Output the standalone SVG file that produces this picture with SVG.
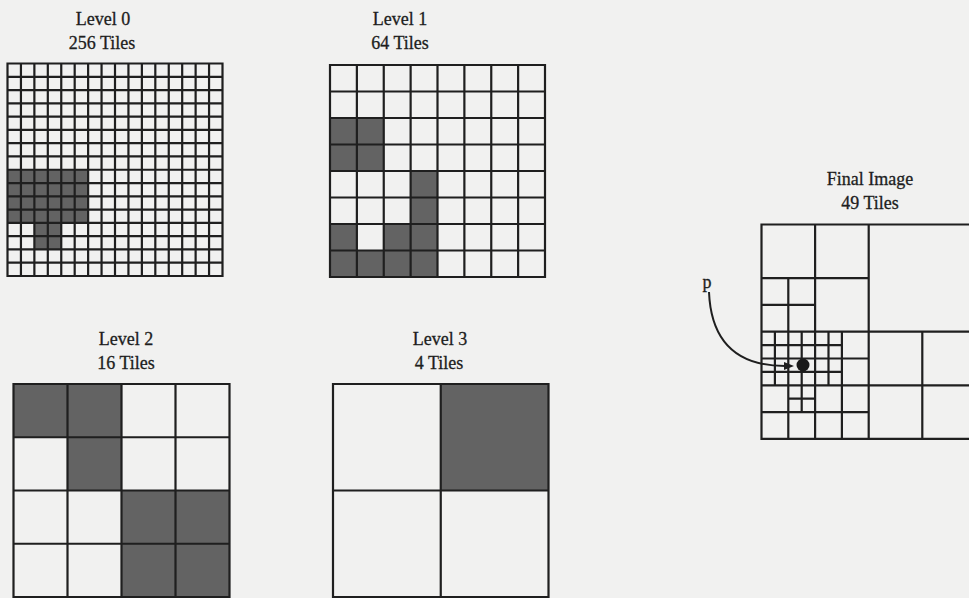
<svg xmlns="http://www.w3.org/2000/svg" width="969" height="598" viewBox="0 0 969 598">
<style>
.bg{fill:#f1f1f0}
.lbl{font-family:"Liberation Serif","Times New Roman",serif;font-size:18px;fill:#1e1e1e;stroke:#1e1e1e;stroke-width:0.3;text-anchor:middle}
.grid{fill:none;stroke:#1f1f1f;stroke-width:2.2;stroke-linecap:square;vector-effect:non-scaling-stroke}
.shade{fill:#636363}
.conn{fill:none;stroke:#1f1f1f;stroke-width:2}
</style>
<defs>
<marker id="ah" markerUnits="userSpaceOnUse" markerWidth="10" markerHeight="8" viewBox="0 0 10 8" refX="1" refY="4" orient="auto">
<path d="M0,0 L10,4 L0,8 z" fill="#1f1f1f"/>
</marker>
</defs>
<rect class="bg" x="0" y="0" width="969" height="598"/>

<g id="level0">
<text class="lbl" x="103" y="25">Level 0</text>
<text class="lbl" x="102" y="49">256 Tiles</text>
<g transform="translate(7.5,63.5) scale(13.4375,13.28125)">
<rect class="shade" x="0" y="8" width="6" height="4"/>
<rect class="shade" x="2" y="12" width="2" height="2"/>
<path class="grid" d="M0 0H16M0 1H16M0 2H16M0 3H16M0 4H16M0 5H16M0 6H16M0 7H16M0 8H16M0 9H16M0 10H16M0 11H16M0 12H16M0 13H16M0 14H16M0 15H16M0 16H16M0 0V16M1 0V16M2 0V16M3 0V16M4 0V16M5 0V16M6 0V16M7 0V16M8 0V16M9 0V16M10 0V16M11 0V16M12 0V16M13 0V16M14 0V16M15 0V16M16 0V16"/>
</g>
</g>

<g id="level1">
<text class="lbl" x="400" y="25">Level 1</text>
<text class="lbl" x="400" y="49">64 Tiles</text>
<g transform="translate(330,65) scale(26.875,26.5)">
<rect class="shade" x="0" y="2" width="2" height="2"/>
<rect class="shade" x="3" y="4" width="1" height="4"/>
<rect class="shade" x="0" y="6" width="1" height="2"/>
<rect class="shade" x="1" y="7" width="1" height="1"/>
<rect class="shade" x="2" y="6" width="1" height="2"/>
<path class="grid" d="M0 0H8M0 1H8M0 2H8M0 3H8M0 4H8M0 5H8M0 6H8M0 7H8M0 8H8M0 0V8M1 0V8M2 0V8M3 0V8M4 0V8M5 0V8M6 0V8M7 0V8M8 0V8"/>
</g>
</g>

<g id="level2">
<text class="lbl" x="126" y="345">Level 2</text>
<text class="lbl" x="126" y="369">16 Tiles</text>
<g transform="translate(13.5,384) scale(54,53.25)">
<rect class="shade" x="0" y="0" width="2" height="1"/>
<rect class="shade" x="1" y="1" width="1" height="1"/>
<rect class="shade" x="2" y="2" width="2" height="2"/>
<path class="grid" d="M0 0H4M0 1H4M0 2H4M0 3H4M0 4H4M0 0V4M1 0V4M2 0V4M3 0V4M4 0V4"/>
</g>
</g>

<g id="level3">
<text class="lbl" x="440" y="345">Level 3</text>
<text class="lbl" x="439" y="369">4 Tiles</text>
<g transform="translate(333,384) scale(107.75,106.5)">
<rect class="shade" x="1" y="0" width="1" height="1"/>
<path class="grid" d="M0 0H2M0 1H2M0 2H2M0 0V2M1 0V2M2 0V2"/>
</g>
</g>

<g id="final">
<text class="lbl" x="870" y="185">Final Image</text>
<text class="lbl" x="870" y="209">49 Tiles</text>
<g transform="translate(761.5,224.5) scale(13.4,13.4)">
<path class="grid" d="M0 0H16V16H0Z M8 0V16 M0 8H16 M4 0V8 M0 4H8 M2 4V8 M0 6H4 M12 8V16 M8 12H16 M0 12H8 M1 8V12 M2 8V16 M3 8V14 M4 8V16 M5 8V12 M6 8V16 M0 9H6 M0 10H8 M0 11H6 M2 13H4 M0 14H8"/>
</g>
<circle cx="803" cy="365" r="6.5" fill="#1a1a1a"/>
</g>

<g id="connectors">
<text class="lbl" x="707" y="288">p</text>
<path class="conn" d="M709,292 C711,340 735,366 785,366" marker-end="url(#ah)"/>
</g>
</svg>
